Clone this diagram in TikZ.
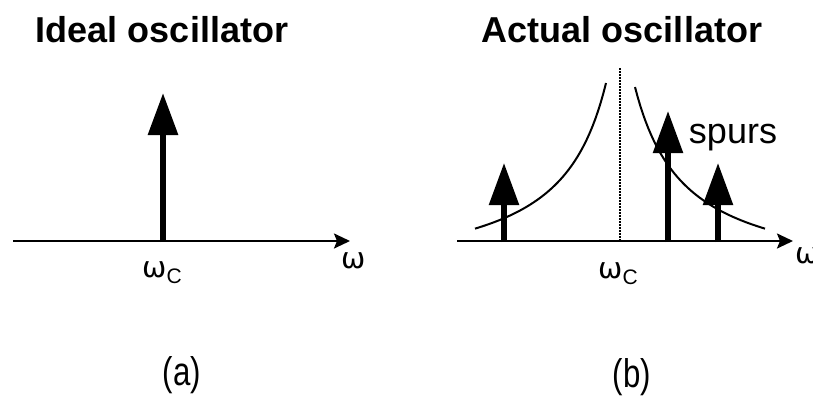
\documentclass[tikz,border=0pt]{standalone}
\usepackage{fontspec}
\setmainfont{Liberation Sans}
\newfontfamily\narrowfont[FakeStretch=0.78]{Liberation Sans}
\newfontfamily\greekfont{DejaVu Sans}
\usetikzlibrary{arrows.meta}

\begin{document}
\begin{tikzpicture}[
    x=1pt, y=-1pt,
    axis/.style={line width=2.2pt, -{Stealth[length=16pt, width=15pt, inset=3pt]}},
    spike/.style={line width=6pt, -{Triangle[length=42pt, width=29pt]}},
    curve/.style={line width=2pt},
    centre/.style={line width=2.4pt, dash pattern=on 1.6pt off 1.4pt},
    title/.style={font=\fontsize{36}{40}\selectfont\bfseries, anchor=base},
    label/.style={font=\fontsize{29}{32}\selectfont\greekfont, anchor=base},
    caption/.style={font=\fontsize{40}{44}\selectfont\narrowfont, anchor=base},
]
\useasboundingbox (0,0) rectangle (813,396);

% Two panels side by side
% --- IDEAL ---
\begin{scope}[shift={(0,0)}]
\node[title] (ttla) at (162, 43) {Ideal oscillator};
\coordinate (axla) at (13, 241);
\coordinate (axra) at (350, 241);
\draw[axis] (axla) -- (axra);
% Single line at the carrier
\coordinate (fca) at (163, 242);
\coordinate (tipa) at (163, 93);
\draw[spike] (fca) -- (tipa);
\node[label] (wca) at (162, 277) {ω{\fontsize{21}{21}\selectfont\rmfamily\raisebox{-6pt}{C}}};
\node[label] (wa) at (354, 268) {ω};
\node[caption] (capa) at (182, 385) {(a)};
\end{scope}

% --- ACTUAL ---
\begin{scope}[shift={(457,0)}]
\node[title] (ttlb) at (165, 43) {Actual oscillator};
% Phase noise skirts
\draw[curve] plot[domain=14:145, samples=50] ({163-\x}, {283-9778/(\x+34.9)});
\draw[curve] plot[domain=15:145, samples=50] ({163+\x}, {283-9778/(\x+34.9)});
\coordinate (ctop) at (163, 68);
\coordinate (cbot) at (163, 241);
\draw[centre] (ctop) -- (cbot);
\coordinate (axlb) at (0, 241);
\coordinate (axrb) at (336, 241);
\draw[axis] (axlb) -- (axrb);
% Spurious tones
\coordinate (f1) at (47, 242);
\coordinate (tip1) at (47, 163);
\draw[spike, line width=5.5pt] (f1) -- (tip1);
\coordinate (f2) at (211, 242);
\coordinate (tip2) at (211, 111);
\draw[spike, line width=5.5pt] (f2) -- (tip2);
\coordinate (f3) at (261, 242);
\coordinate (tip3) at (261, 163);
\draw[spike, line width=5.5pt] (f3) -- (tip3);
\node[label, font=\fontsize{36}{40}\selectfont\rmfamily] (spurs) at (276, 143) {spurs};
\node[label] (wcb) at (161, 278) {ω{\fontsize{21}{21}\selectfont\rmfamily\raisebox{-6pt}{C}}};
\node[label, anchor=base west] (wb) at (335, 263) {ω};
\node[caption] (capb) at (175, 387) {(b)};
\end{scope}

\end{tikzpicture}
\end{document}
